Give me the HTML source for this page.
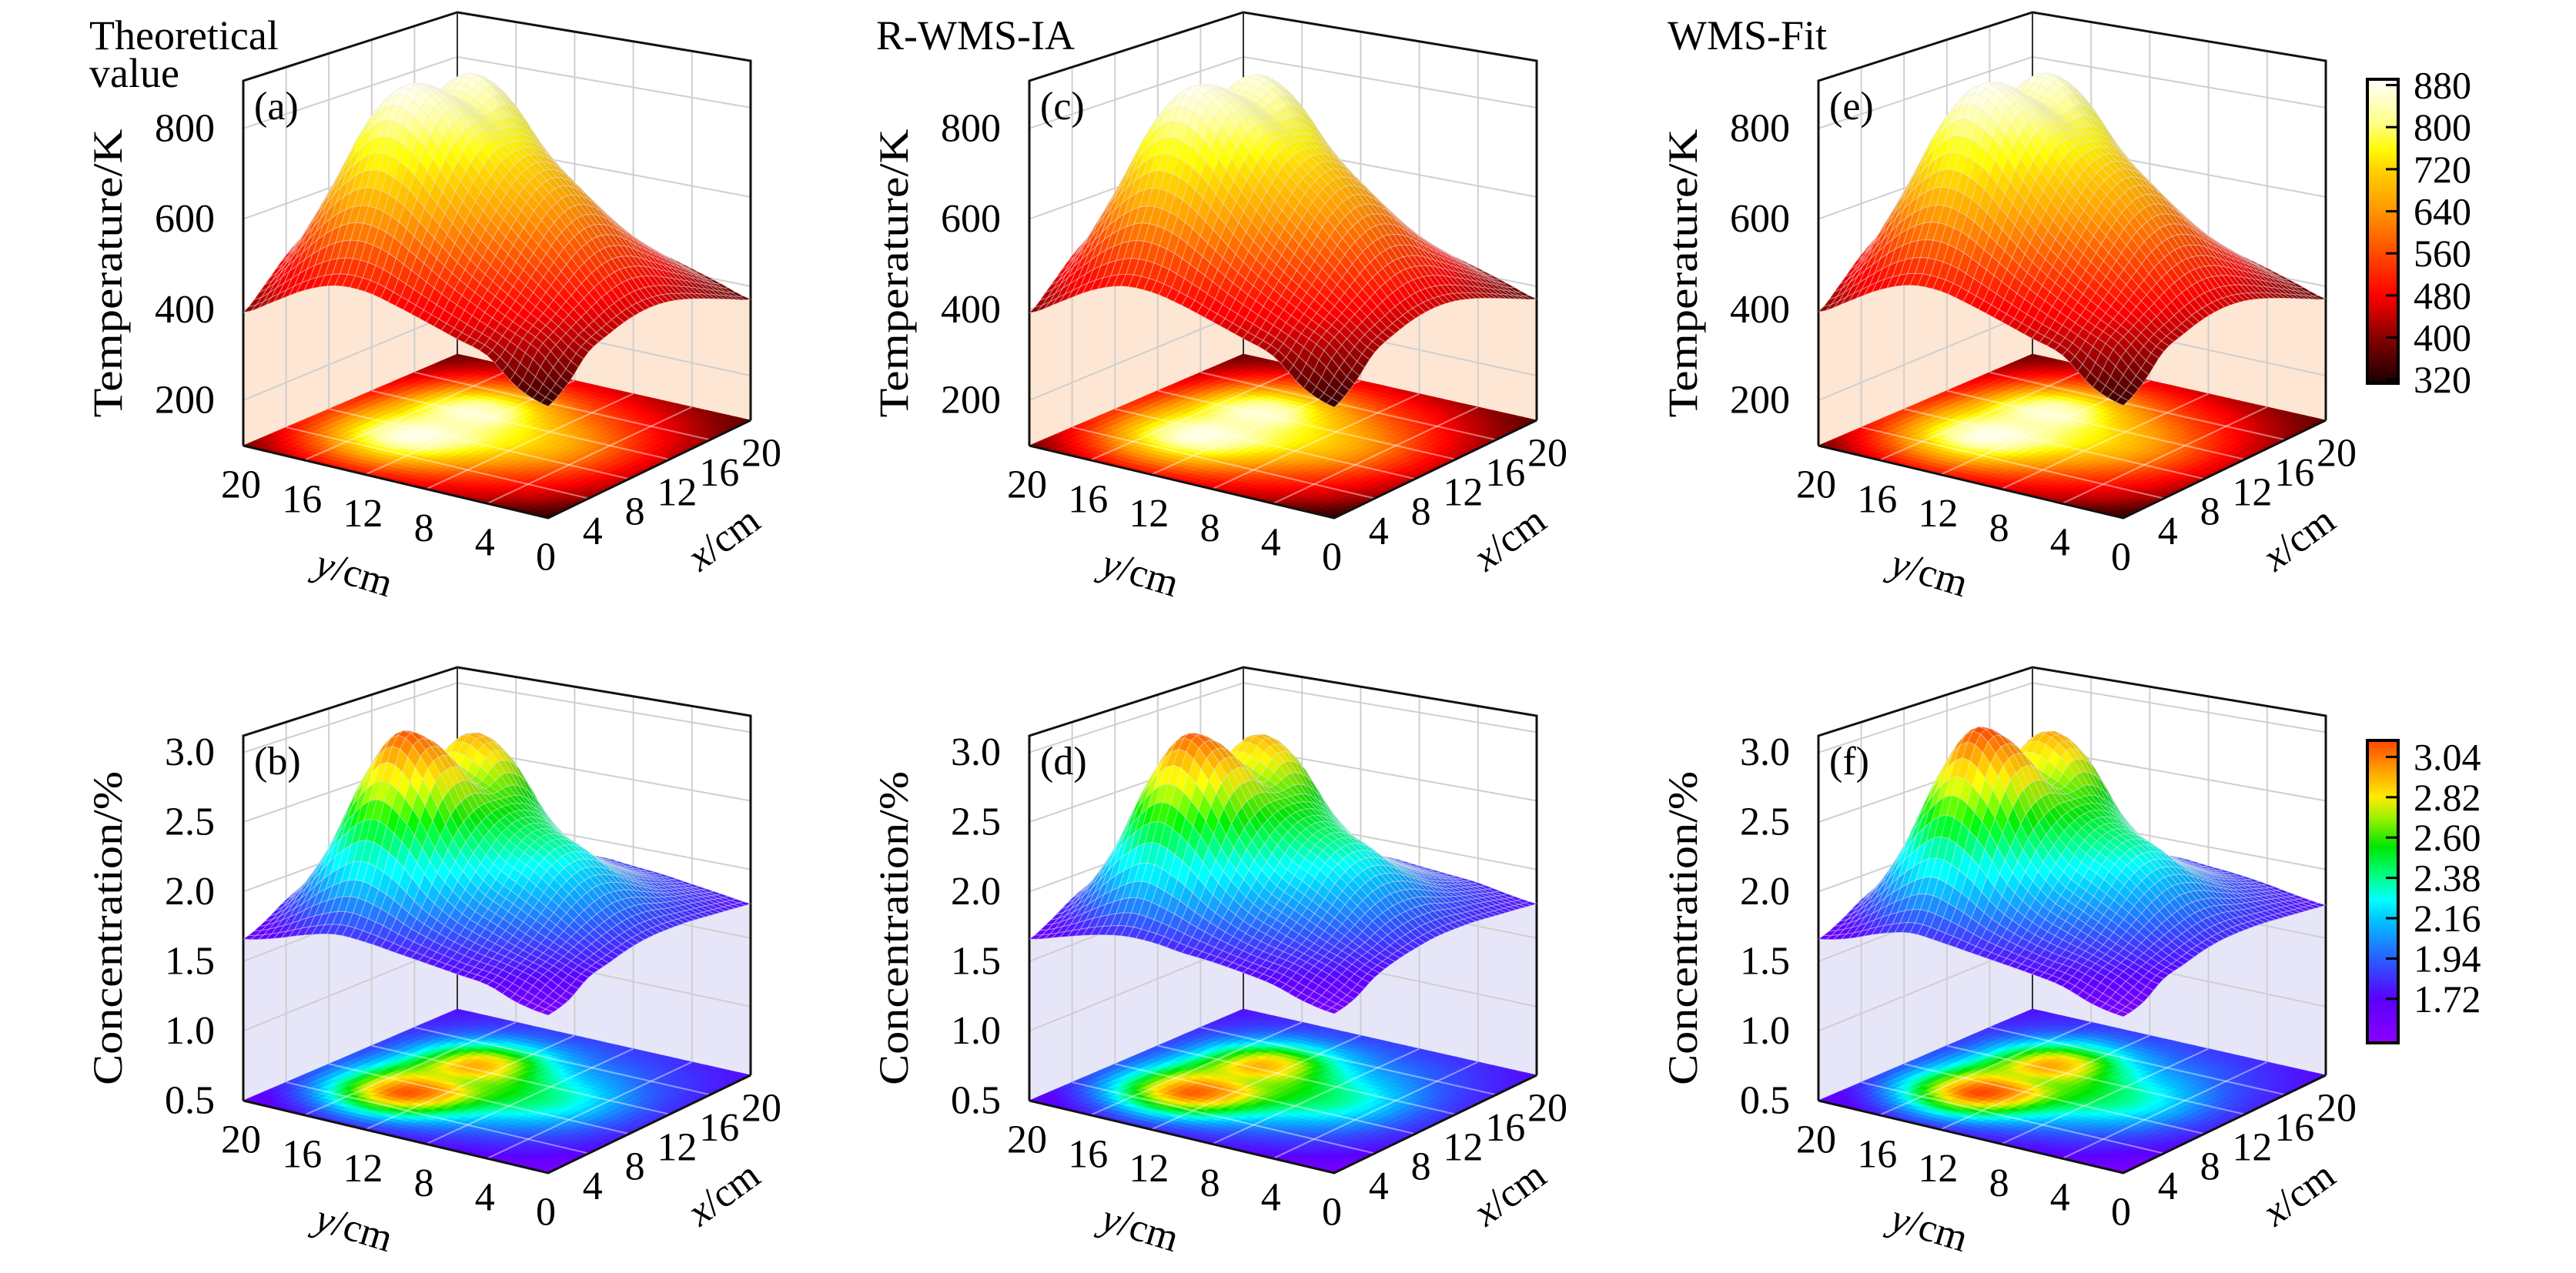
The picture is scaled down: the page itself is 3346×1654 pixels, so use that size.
<!DOCTYPE html>
<html><head><meta charset="utf-8"><title>3D surfaces</title>
<style>html,body{margin:0;padding:0;background:#fff;}svg{display:block;}text{font-family:"Liberation Serif","DejaVu Serif",serif;}</style>
</head><body>
<svg id="chart" xmlns="http://www.w3.org/2000/svg" width="3346" height="1654" viewBox="0 0 3346 1654" font-family="Liberation Serif, serif">
<defs>
<linearGradient id="gradT" x1="0" y1="1" x2="0" y2="0"></linearGradient>
<linearGradient id="gradC" x1="0" y1="1" x2="0" y2="0"></linearGradient>
</defs>
<rect x="0" y="0" width="3346" height="1654" fill="#fff"/>
</svg>
<script>
// ---- data: grids indexed [x index 0..10 (x=0..20 cm)][y index 0..10 (y=0..20 cm)] ----
const xTicks = [4, 8, 12, 16, 20];
const yTicks = [20, 16, 12, 8, 4, 0];
const tempTicks = [200, 400, 600, 800];
const concTicks = [0.5, 1.0, 1.5, 2.0, 2.5, 3.0];
const tempBarTicks = [320, 400, 480, 560, 640, 720, 800, 880];
const concBarTicks = [1.72, 1.94, 2.16, 2.38, 2.60, 2.82, 3.04];

const tempTheory = [
 [335,360,414,436,458,479,496,495,471,432,394],
 [365,421,453,486,523,567,607,615,577,507,437],
 [412,453,496,542,596,664,731,751,696,590,485],
 [431,483,543,602,665,741,828,865,793,650,520],
 [445,509,585,655,716,786,851,873,799,666,531],
 [450,520,602,676,733,778,823,832,765,651,521],
 [445,509,584,650,707,766,848,861,772,625,503],
 [431,482,539,593,645,711,795,812,722,580,476],
 [412,452,494,532,573,623,671,672,609,518,445],
 [391,421,452,479,504,530,550,544,506,455,410],
 [371,392,413,432,448,459,464,456,435,408,382]];
const tempRWMS = [
 [333,359,413,437,459,480,495,494,470,431,393],
 [364,420,454,487,524,568,606,614,576,506,436],
 [411,454,497,543,597,665,730,749,695,589,484],
 [432,484,544,603,666,742,826,862,791,649,519],
 [446,510,586,656,717,787,849,871,797,665,530],
 [451,521,603,677,734,779,824,833,764,650,520],
 [446,510,585,651,708,767,846,859,771,624,502],
 [432,483,540,594,646,712,794,810,721,579,475],
 [413,453,495,533,574,624,670,671,608,517,444],
 [392,422,453,480,505,531,549,543,505,454,409],
 [372,393,414,433,449,460,463,455,434,407,381]];
const tempFit = [
 [337,361,415,437,459,480,497,496,472,433,395],
 [366,422,454,487,524,568,608,616,578,508,438],
 [413,454,497,543,597,665,732,752,697,591,486],
 [432,484,544,603,666,742,829,867,794,651,521],
 [446,510,586,656,717,787,852,875,800,667,532],
 [451,521,603,677,734,779,822,831,766,652,522],
 [446,510,585,651,708,767,849,862,773,626,504],
 [432,483,540,594,646,712,796,813,723,581,477],
 [413,453,495,533,574,624,672,673,610,519,446],
 [392,422,453,480,505,531,551,545,507,456,411],
 [372,393,414,433,449,460,465,457,436,409,383]];
const concTheory = [
 [1.58,1.62,1.70,1.73,1.76,1.79,1.82,1.83,1.78,1.71,1.66],
 [1.62,1.72,1.78,1.82,1.88,1.97,2.10,2.16,2.05,1.87,1.73],
 [1.72,1.79,1.86,1.95,2.05,2.24,2.54,2.68,2.48,2.10,1.83],
 [1.76,1.86,1.98,2.10,2.23,2.49,2.89,3.09,2.80,2.28,1.90],
 [1.80,1.92,2.10,2.27,2.40,2.60,2.93,3.02,2.79,2.28,1.93],
 [1.82,1.96,2.16,2.34,2.46,2.60,2.70,2.77,2.64,2.19,1.91],
 [1.82,1.95,2.12,2.28,2.39,2.57,2.85,2.93,2.59,2.13,1.88],
 [1.81,1.90,2.02,2.12,2.22,2.42,2.75,2.83,2.47,2.07,1.86],
 [1.79,1.86,1.92,2.00,2.05,2.17,2.35,2.37,2.17,1.95,1.83],
 [1.77,1.82,1.86,1.90,1.93,1.98,2.02,2.02,1.94,1.85,1.79],
 [1.75,1.78,1.81,1.84,1.86,1.88,1.87,1.87,1.83,1.80,1.76]];
const concRWMS = [
 [1.59,1.63,1.70,1.74,1.77,1.79,1.82,1.82,1.78,1.72,1.66],
 [1.63,1.72,1.79,1.83,1.89,1.98,2.09,2.15,2.04,1.87,1.74],
 [1.72,1.80,1.87,1.96,2.06,2.25,2.53,2.66,2.47,2.10,1.84],
 [1.77,1.86,1.99,2.11,2.24,2.50,2.88,3.07,2.79,2.28,1.91],
 [1.80,1.93,2.11,2.28,2.41,2.61,2.92,3.01,2.78,2.28,1.93],
 [1.82,1.96,2.17,2.35,2.47,2.61,2.71,2.78,2.63,2.19,1.92],
 [1.82,1.95,2.13,2.29,2.40,2.58,2.84,2.92,2.58,2.13,1.89],
 [1.81,1.90,2.03,2.13,2.23,2.43,2.74,2.82,2.46,2.07,1.86],
 [1.79,1.86,1.93,2.01,2.06,2.18,2.34,2.36,2.16,1.95,1.83],
 [1.77,1.82,1.87,1.91,1.94,1.99,2.02,2.01,1.94,1.85,1.79],
 [1.75,1.78,1.82,1.84,1.86,1.88,1.87,1.87,1.83,1.80,1.76]];
const concFit = [
 [1.57,1.61,1.69,1.73,1.76,1.79,1.82,1.84,1.79,1.71,1.66],
 [1.61,1.71,1.78,1.82,1.88,1.97,2.11,2.18,2.06,1.87,1.73],
 [1.71,1.78,1.86,1.95,2.05,2.24,2.56,2.71,2.50,2.11,1.83],
 [1.75,1.85,1.98,2.10,2.23,2.49,2.91,3.12,2.82,2.29,1.90],
 [1.79,1.91,2.10,2.27,2.40,2.60,2.94,3.04,2.80,2.28,1.93],
 [1.81,1.95,2.16,2.34,2.46,2.60,2.69,2.76,2.64,2.19,1.91],
 [1.81,1.94,2.12,2.28,2.39,2.57,2.86,2.94,2.60,2.13,1.88],
 [1.80,1.89,2.02,2.12,2.22,2.42,2.76,2.84,2.48,2.07,1.86],
 [1.78,1.85,1.92,2.00,2.05,2.17,2.35,2.38,2.18,1.95,1.83],
 [1.76,1.81,1.86,1.90,1.93,1.98,2.02,2.03,1.94,1.85,1.79],
 [1.74,1.77,1.81,1.84,1.86,1.88,1.87,1.87,1.83,1.80,1.76]];

const tempStops = [[313,[25,0,0]],[400,[135,0,0]],[480,[255,0,0]],[560,[255,75,0]],[640,[255,150,0]],[720,[255,210,0]],[755,[255,250,0]],[810,[255,255,140]],[892,[255,255,255]]];
const concStops = [[1.48,[140,0,255]],[1.72,[90,0,255]],[1.94,[40,95,255]],[2.16,[0,200,255]],[2.26,[0,255,255]],[2.38,[0,255,140]],[2.55,[0,230,0]],[2.70,[150,240,0]],[2.82,[255,235,0]],[2.95,[255,170,0]],[3.13,[255,70,0]]];

const NS = "http://www.w3.org/2000/svg";
const FONT = '"Liberation Serif", "DejaVu Serif", serif';
const svg = document.getElementById('chart');
const GEO = {F:[712,673], L:[316,579], R:[975,546], B:[594,460], hF:497, hL:474, hR:467, hB:444};

function mk(tag, attrs, parent) {
  const e = document.createElementNS(NS, tag);
  for (const k in attrs) e.setAttribute(k, attrs[k]);
  if (tag === 'text') e.setAttribute('font-family', FONT);
  (parent || svg).appendChild(e);
  return e;
}
function cmap(stops, v) {
  if (v <= stops[0][0]) return stops[0][1];
  for (let k = 1; k < stops.length; k++) {
    if (v <= stops[k][0]) {
      const a = stops[k-1], b = stops[k], t = (v - a[0]) / (b[0] - a[0]);
      return [0,1,2].map(c => Math.round(a[1][c] + (b[1][c] - a[1][c]) * t));
    }
  }
  return stops[stops.length-1][1];
}
function rgb(c) { return 'rgb(' + c[0] + ',' + c[1] + ',' + c[2] + ')'; }
function cr(p0,p1,p2,p3,t){return 0.5*((2*p1)+(-p0+p2)*t+(2*p0-5*p1+4*p2-p3)*t*t+(-p0+3*p1-3*p2+p3)*t*t*t);}
function gv(grid,i,j){i=Math.max(0,Math.min(10,i));j=Math.max(0,Math.min(10,j));return grid[i][j];}
function val(grid,x,y){
  const gx=x/2, gy=y/2;
  let i=Math.floor(gx), j=Math.floor(gy);
  if(i>9)i=9; if(j>9)j=9;
  const tx=gx-i, ty=gy-j, rows=[];
  for(let a=-1;a<3;a++) rows.push(cr(gv(grid,i+a,j-1),gv(grid,i+a,j),gv(grid,i+a,j+1),gv(grid,i+a,j+2),ty));
  return cr(rows[0],rows[1],rows[2],rows[3],tx);
}
function proj(pn,x,y,z){
  const u=x/20, v=y/20;
  const w00=(1-u)*(1-v), w10=u*(1-v), w01=(1-u)*v, w11=u*v;
  const fx=w00*GEO.F[0]+w10*GEO.R[0]+w01*GEO.L[0]+w11*GEO.B[0];
  const fy=w00*GEO.F[1]+w10*GEO.R[1]+w01*GEO.L[1]+w11*GEO.B[1];
  const h=w00*GEO.hF+w10*GEO.hR+w01*GEO.hL+w11*GEO.hB;
  const t=(z-pn.zmin)/(pn.zmax-pn.zmin);
  return [fx+pn.dx, fy+pn.dy-t*h];
}
function pts(arr){return arr.map(p=>p[0].toFixed(1)+','+p[1].toFixed(1)).join(' ');}

const panels = [
  {id:'a', dx:0, dy:0, grid:tempTheory, zmin:100, zmax:905, stops:tempStops, curtain:'#fde6d3', ticks:tempTicks, fmt:v=>String(v), ztitle:'Temperature/K', title:['Theoretical','value'], fg:null},
  {id:'c', dx:1021, dy:0, grid:tempRWMS, zmin:100, zmax:905, stops:tempStops, curtain:'#fde6d3', ticks:tempTicks, fmt:v=>String(v), ztitle:'Temperature/K', title:['R-WMS-IA'], fg:null},
  {id:'e', dx:2046, dy:0, grid:tempFit, zmin:100, zmax:905, stops:tempStops, curtain:'#fde6d3', ticks:tempTicks, fmt:v=>String(v), ztitle:'Temperature/K', title:['WMS-Fit'], fg:null},
  {id:'b', dx:0, dy:851, grid:concTheory, zmin:0.5, zmax:3.12, stops:concStops, curtain:'#e6e6f8', ticks:concTicks, fmt:v=>v.toFixed(1), ztitle:'Concentration/%', title:[], fg:null},
  {id:'d', dx:1021, dy:851, grid:concRWMS, zmin:0.5, zmax:3.12, stops:concStops, curtain:'#e6e6f8', ticks:concTicks, fmt:v=>v.toFixed(1), ztitle:'Concentration/%', title:[], fg:null},
  {id:'f', dx:2046, dy:851, grid:concFit, zmin:0.5, zmax:3.12, stops:concStops, curtain:'#e6e6f8', ticks:concTicks, fmt:v=>v.toFixed(1), ztitle:'Concentration/%', title:[], fg:null}
];
function floorVal(pn, v) {
  if (!pn.fg) return v;
  const [a,b,c,d,gm] = pn.fg;
  const t = Math.max(0, Math.min(1, (v - a) / (b - a)));
  return c + (d - c) * Math.pow(t, gm);
}

const N = 40;
panels.forEach(pn => {
  const g = mk('g', {});
  
  
  const zmin = pn.zmin, zmax = pn.zmax;
  const lw = mk('polygon', {points: pts([proj(pn,0,20,zmin),proj(pn,20,20,zmin),proj(pn,20,20,zmax),proj(pn,0,20,zmax)]), fill:'#fff'}, g);
  
  
  const rw = mk('polygon', {points: pts([proj(pn,20,20,zmin),proj(pn,20,0,zmin),proj(pn,20,0,zmax),proj(pn,20,20,zmax)]), fill:'#fff'}, g);
  
  
  const lc = [];
  for (let x = 0; x <= 20.001; x += 0.5) lc.push(proj(pn,x,20,val(pn.grid,x,20)));
  lc.push(proj(pn,20,20,zmin)); lc.push(proj(pn,0,20,zmin));
  const lcp = mk('polygon', {points: pts(lc), fill: pn.curtain}, g);
  
  
  const rc = [];
  for (let y = 0; y <= 20.001; y += 0.5) rc.push(proj(pn,20,y,val(pn.grid,20,y)));
  rc.push(proj(pn,20,20,zmin)); rc.push(proj(pn,20,0,zmin));
  const rcp = mk('polygon', {points: pts(rc), fill: pn.curtain}, g);
  
  
  pn.ticks.forEach(z => {
    if (z <= zmin + 1e-9) return;
    const a = proj(pn,0,20,z), b = proj(pn,20,20,z), c = proj(pn,20,0,z);
    const gl = mk('polyline', {points: pts([a,b,c]), fill:'none', stroke:'#cfcfcf', 'stroke-width':2}, g);
    
    
  });
  [4,8,12,16].forEach(s => {
    const a = proj(pn,s,20,zmin), b = proj(pn,s,20,zmax);
    const l1 = mk('line', {x1:a[0],y1:a[1],x2:b[0],y2:b[1], stroke:'#cfcfcf', 'stroke-width':2}, g);
    
    
    const c = proj(pn,20,s,zmin), d = proj(pn,20,s,zmax);
    const l2 = mk('line', {x1:c[0],y1:c[1],x2:d[0],y2:d[1], stroke:'#cfcfcf', 'stroke-width':2}, g);
    
    
  });
  const be = mk('polyline', {points: pts([proj(pn,0,20,zmin),proj(pn,0,20,zmax),proj(pn,20,20,zmax),proj(pn,20,0,zmax),proj(pn,20,0,zmin)]), fill:'none', stroke:'#111', 'stroke-width':3}, g);
  
  
  const bv = mk('line', {x1:proj(pn,20,20,zmin)[0], y1:proj(pn,20,20,zmin)[1], x2:proj(pn,20,20,zmax)[0], y2:proj(pn,20,20,zmax)[1], stroke:'#333', 'stroke-width':2}, g);
  
  
  const V = [];
  for (let a = 0; a <= N; a++) { V.push([]); for (let b = 0; b <= N; b++) V[a].push(val(pn.grid, a*20/N, b*20/N)); }
  const fg = mk('g', {}, g);
  
  
  for (let a = 0; a < N; a++) for (let b = 0; b < N; b++) {
    const x0=a*20/N, x1=(a+1)*20/N, y0=b*20/N, y1=(b+1)*20/N;
    const v = (V[a][b]+V[a+1][b]+V[a][b+1]+V[a+1][b+1])/4;
    const col = rgb(cmap(pn.stops, floorVal(pn, v)));
    const c = mk('polygon', {points: pts([proj(pn,x0,y0,zmin),proj(pn,x1,y0,zmin),proj(pn,x1,y1,zmin),proj(pn,x0,y1,zmin)]), fill: col, stroke: col, 'stroke-width': 0.8}, fg);
    
    
  }
  [4,8,12,16].forEach(s => {
    const a = proj(pn,s,0,zmin), b = proj(pn,s,20,zmin);
    const l1 = mk('line', {x1:a[0],y1:a[1],x2:b[0],y2:b[1], stroke:'rgba(255,255,255,0.45)', 'stroke-width':2}, g);
    
    
    const c = proj(pn,0,s,zmin), d = proj(pn,20,s,zmin);
    const l2 = mk('line', {x1:c[0],y1:c[1],x2:d[0],y2:d[1], stroke:'rgba(255,255,255,0.45)', 'stroke-width':2}, g);
    
    
  });
  const fe = mk('polyline', {points: pts([proj(pn,0,20,zmin),proj(pn,0,0,zmin),proj(pn,20,0,zmin)]), fill:'none', stroke:'#111', 'stroke-width':3}, g);
  
  
  const sg = mk('g', {}, g);
  
  
  const cells = [];
  for (let a = 0; a < N; a++) for (let b = 0; b < N; b++) cells.push([a,b]);
  cells.sort((p,q) => (q[0]+q[1]) - (p[0]+p[1]));
  cells.forEach(([a,b]) => {
    const x0=a*20/N, x1=(a+1)*20/N, y0=b*20/N, y1=(b+1)*20/N;
    const v = (V[a][b]+V[a+1][b]+V[a][b+1]+V[a+1][b+1])/4;
    let col = cmap(pn.stops, v);
    const du = ((V[a+1][b]+V[a+1][b+1]) - (V[a][b]+V[a][b+1]))/2/(zmax-zmin)*N;
    const dv = ((V[a][b+1]+V[a+1][b+1]) - (V[a][b]+V[a+1][b]))/2/(zmax-zmin)*N;
    const f = Math.max(0.72, Math.min(1.08, 1 + 0.10*du - 0.04*dv));
    col = col.map(c => Math.max(0, Math.min(255, Math.round(c*f))));
    const c = mk('polygon', {points: pts([proj(pn,x0,y0,V[a][b]),proj(pn,x1,y0,V[a+1][b]),proj(pn,x1,y1,V[a+1][b+1]),proj(pn,x0,y1,V[a][b+1])]), fill: rgb(col), stroke:'rgba(235,235,235,0.38)', 'stroke-width':1.1, 'stroke-linejoin':'round'}, sg);
    
    
  });
  pn.ticks.forEach(z => {
    const p = proj(pn,0,20,z);
    const t = mk('text', {x: 279+pn.dx, y: p[1], 'font-size':52, 'text-anchor':'end', 'dominant-baseline':'central', fill:'#000'}, g);
    
    
    t.textContent = pn.fmt(z);
  });
  yTicks.forEach(y => {
    const p = proj(pn,0,y,zmin);
    const t = mk('text', {x: p[0]-3, y: p[1]+51, 'font-size':52, 'text-anchor':'middle', 'dominant-baseline':'central', fill:'#000'}, g);
    
    
    t.textContent = String(y);
  });
  xTicks.forEach(x => {
    const p = proj(pn,x,0,zmin);
    const t = mk('text', {x: p[0]+3+x*0.55, y: p[1]+43, 'font-size':52, 'text-anchor':'middle', 'dominant-baseline':'central', fill:'#000'}, g);
    
    
    t.textContent = String(x);
  });
  const yt = mk('text', {x: 460+pn.dx, y: 745+pn.dy, 'font-size':52, 'text-anchor':'middle', 'dominant-baseline':'central', transform:'rotate(17 ' + (460+pn.dx) + ' ' + (745+pn.dy) + ')'}, g);
  
  
  yt.innerHTML = '<tspan font-style="italic">y</tspan>/cm';
  const xt = mk('text', {x: 940+pn.dx, y: 700+pn.dy, 'font-size':52, 'text-anchor':'middle', 'dominant-baseline':'central', transform:'rotate(-36 ' + (940+pn.dx) + ' ' + (700+pn.dy) + ')'}, g);
  
  
  xt.innerHTML = '<tspan font-style="italic">x</tspan>/cm';
  const zc = pn.dy === 0 ? 355 : 1206;
  const zlen = pn.dy === 0 ? 375 : 408;
  const zt = mk('text', {x: 140+pn.dx, y: zc, 'font-size':54, 'text-anchor':'middle', 'dominant-baseline':'central', textLength: zlen, lengthAdjust:'spacingAndGlyphs', transform:'rotate(-90 ' + (140+pn.dx) + ' ' + zc + ')'}, g);
  
  
  zt.textContent = pn.ztitle;
  const pl = mk('text', {x: 330+pn.dx, y: 155+pn.dy, 'font-size':52, fill:'#000'}, g);
  
  
  pl.textContent = '(' + pn.id + ')';
  pn.title.forEach((s, k) => {
    const tx = pn.id === 'a' ? 116 : (pn.id === 'c' ? 1138 : 2166);
    const tt = mk('text', {x: tx, y: 64 + k*49, 'font-size':54, fill:'#000'}, g);
    
    
    tt.textContent = s;
  });
});

function colorbar(gradId, stops, y0, y1, vTop, vBot, ticks, fmt, name) {
  const grad = document.getElementById(gradId);
  stops.forEach(s => {
    mk('stop', {offset: ((s[0]-vBot)/(vTop-vBot)).toFixed(4), 'stop-color': rgb(s[1])}, grad);
  });
  const g = mk('g', {});
  
  
  const r = mk('rect', {x:3075, y:y0, width:40, height:y1-y0, fill:'url(#' + gradId + ')', stroke:'#000', 'stroke-width':4}, g);
  
  
  ticks.forEach(v => {
    const y = y1 - (v - vBot) / (vTop - vBot) * (y1 - y0);
    const l = mk('line', {x1:3099, y1:y, x2:3115, y2:y, stroke:'#000', 'stroke-width':3}, g);
    
    
    const t = mk('text', {x:3135, y:y, 'font-size':50, 'dominant-baseline':'central', fill:'#000'}, g);
    
    
    t.textContent = fmt(v);
  });
}
colorbar('gradT', tempStops, 103, 498, 891, 313, tempBarTicks, v => String(v), 'temperature-colorbar');
colorbar('gradC', concStops, 962, 1355, 3.13, 1.48, concBarTicks, v => v.toFixed(2), 'concentration-colorbar');
</script>
</body></html>
